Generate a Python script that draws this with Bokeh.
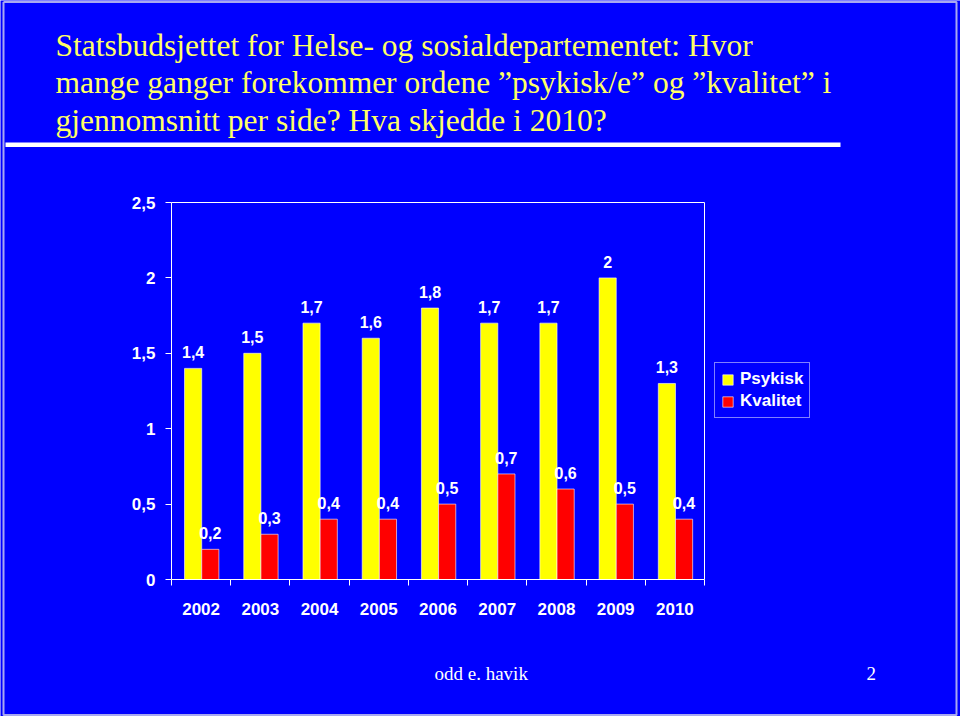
from bokeh.plotting import figure
from bokeh.models import (Range1d, FixedTicker, Legend, LegendItem, ColumnDataSource,
                          LinearAxis)
from bokeh.core.properties import value
from bokeh.embed import file_html
from bokeh.resources import INLINE

# ---- data ----
years = ["2002", "2003", "2004", "2005", "2006", "2007", "2008", "2009", "2010"]
psykisk = [1.4, 1.5, 1.7, 1.6, 1.8, 1.7, 1.7, 2.0, 1.3]
kvalitet = [0.2, 0.3, 0.4, 0.4, 0.5, 0.7, 0.6, 0.5, 0.4]
y_ticks = [0, 0.5, 1, 1.5, 2, 2.5]
y_tick_labels = ["0", "0,5", "1", "1,5", "2", "2,5"]
title_lines = [
    "Statsbudsjettet for Helse- og sosialdepartementet: Hvor",
    "mange ganger forekommer ordene \u201dpsykisk/e\u201d og \u201dkvalitet\u201d i",
    "gjennomsnitt per side? Hva skjedde i 2010?",
]
footer_text = "odd e. havik"
page_number = "2"


def fmt(v):
    return ("%g" % v).replace(".", ",")


BLUE = "#0000FF"
SANS = "Liberation Sans"
SERIF = "Liberation Serif"
W, H = 960, 716
n = len(years)
YMAX = y_ticks[-1]

# plot-area placement on the canvas (pixels from top-left)
PL, PR, PT, PB = 171, 704, 202, 579


def dx(px):
    return (px - PL) / (PR - PL) * n


def dy(py):
    return (PB - py) / (PB - PT) * YMAX


p = figure(width=W, height=H, output_backend="svg", toolbar_location=None,
           x_range=Range1d(dx(0), dx(W)), y_range=Range1d(dy(H), dy(0)),
           x_axis_location=None, y_axis_location=None, min_border=0,
           background_fill_color=BLUE, border_fill_color=BLUE,
           outline_line_color=None)
p.grid.visible = False

# slide edge
p.line(x=[dx(3), dx(956), dx(956), dx(3), dx(3)],
       y=[dy(1.5), dy(1.5), dy(714.5), dy(714.5), dy(1.5)],
       line_color="#A8A8F0", line_width=2)

# ---- bars ----
xs = list(range(n))
src = ColumnDataSource(dict(
    xp=[i + 0.365 for i in xs], xk=[i + 0.655 for i in xs],
    psykisk=psykisk, kvalitet=kvalitet,
    lp=[fmt(v) for v in psykisk], lk=[fmt(v) for v in kvalitet],
))
r1 = p.vbar(x="xp", top="psykisk", width=0.29, bottom=0, source=src,
            fill_color="#FFFF00", line_color="white", line_alpha=0.6, line_width=1)
r2 = p.vbar(x="xk", top="kvalitet", width=0.29, bottom=0, source=src,
            fill_color="#FF0000", line_color="white", line_alpha=0.6, line_width=1)

lab_kw = dict(text_font=value(SANS), text_font_style="bold", text_font_size="16px",
              text_color="white", text_align="center", text_baseline="bottom",
              y_offset=-10)
p.text(x="xp", y="psykisk", text="lp", source=src, **lab_kw)
p.text(x="xk", y="kvalitet", text="lk", source=src, **lab_kw)

# plot-area border (top and right sides)
p.line(x=[0, n, n], y=[YMAX, YMAX, 0], line_color="white", line_width=1)

# ---- axes (fixed inside the frame) ----
xa = LinearAxis(fixed_location=0, bounds=(0, n))
xa.ticker = FixedTicker(ticks=[i + 0.5 for i in xs], minor_ticks=list(range(n + 1)))
xa.major_label_overrides = {i + 0.5: years[i] for i in xs}
xa.major_tick_line_color = None
xa.major_tick_in = 0
xa.major_tick_out = 0
xa.minor_tick_line_color = "white"
xa.minor_tick_in = 0
xa.minor_tick_out = 6
xa.axis_line_color = "white"
xa.major_label_text_color = "white"
xa.major_label_text_font = SANS
xa.major_label_text_font_style = "bold"
xa.major_label_text_font_size = "17px"
xa.major_label_standoff = 17
p.add_layout(xa, "below")

ya = LinearAxis(fixed_location=0, bounds=(0, YMAX))
ya.ticker = FixedTicker(ticks=y_ticks)
ya.major_label_overrides = {t: l for t, l in zip(y_ticks, y_tick_labels)}
ya.major_tick_line_color = "white"
ya.major_tick_in = 0
ya.major_tick_out = 6
ya.minor_tick_line_color = None
ya.axis_line_color = "white"
ya.major_label_text_color = "white"
ya.major_label_text_font = SANS
ya.major_label_text_font_style = "bold"
ya.major_label_text_font_size = "17px"
ya.major_label_standoff = 10
p.add_layout(ya, "left")

# ---- legend ----
legend = Legend(items=[LegendItem(label="Psykisk", renderers=[r1]),
                       LegendItem(label="Kvalitet", renderers=[r2])],
                location=(714, H - 418),
                border_line_color="white", border_line_width=1,
                background_fill_color=BLUE, background_fill_alpha=1,
                label_text_color="white", label_text_font=SANS,
                label_text_font_style="bold", label_text_font_size="17px",
                glyph_width=13, glyph_height=13, label_height=19,
                label_standoff=6, spacing=2, padding=6, margin=0)
p.add_layout(legend, "center")

# ---- title, separator, footer ----
TS = 31.5
p.text(x=[dx(55)] * 3, y=[dy(54 - 0.3 * TS), dy(91.5 - 0.3 * TS), dy(129 - 0.3 * TS)],
       text=title_lines, text_font=value(SERIF), text_font_size=f"{TS}px",
       text_color="#FFFF66", text_baseline="alphabetic", text_align="left")

p.quad(left=[dx(5)], right=[dx(840)], top=[dy(142)], bottom=[dy(146.5)],
       fill_color="white", line_color=None)

FS = 19
p.text(x=[dx(434), dx(866)], y=[dy(679 - 0.3 * FS)] * 2, text=[footer_text, page_number],
       text_font=value(SERIF), text_font_size=f"{FS}px", text_color="white",
       text_baseline="alphabetic", text_align="left")

open("out.html", "w").write(file_html(p, INLINE))
